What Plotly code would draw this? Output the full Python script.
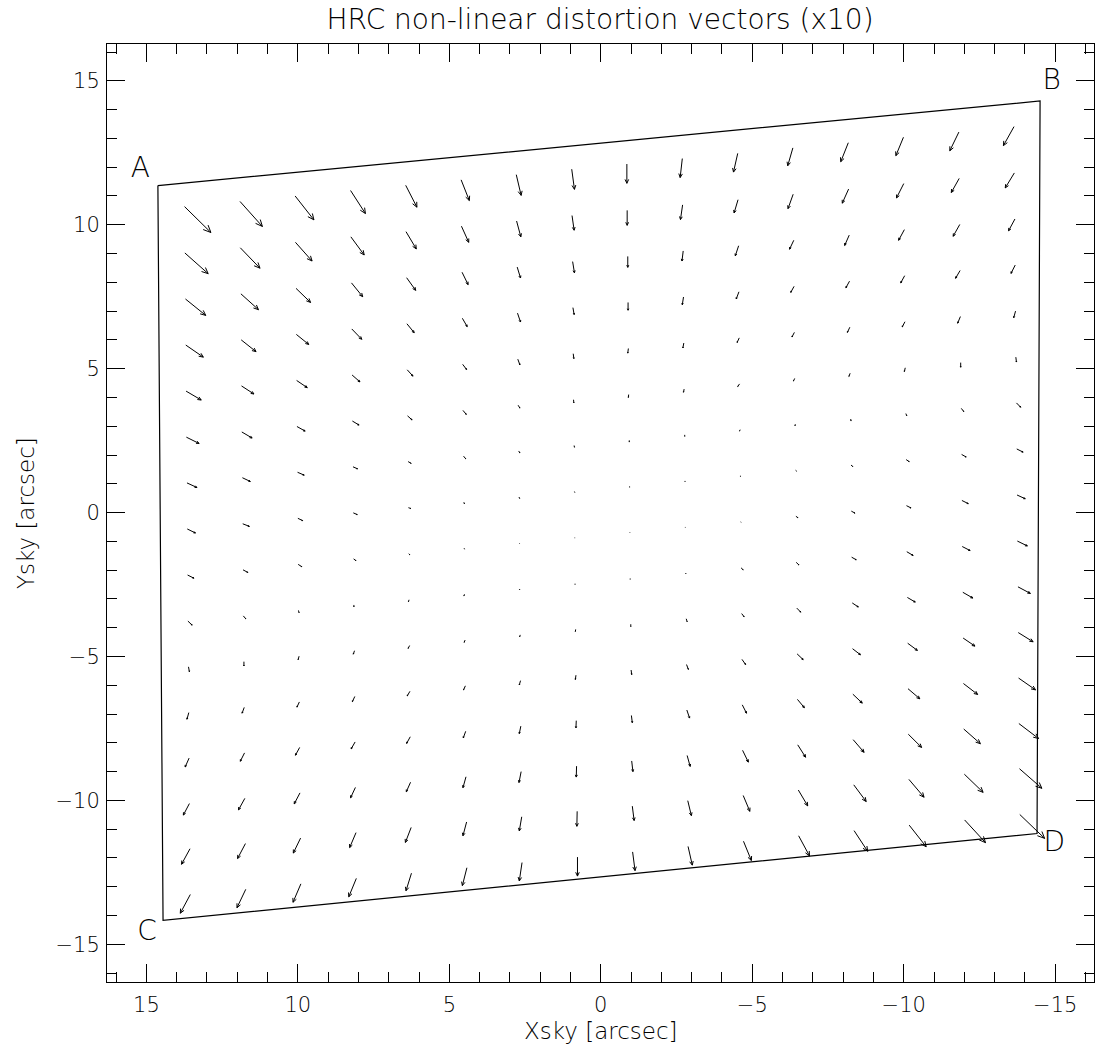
import math
import plotly.graph_objects as go

# ---------------- data (sky coordinates in arcsec) ----------------
# tail positions of the sampling grid: per-column positions of the top row
col_x = [13.74, 11.91, 10.09, 8.26, 6.44, 4.61, 2.79, 0.96, -0.86, -2.69,
         -4.52, -6.34, -8.17, -9.99, -11.82, -13.64]
col_y = [10.63, 10.81, 11.00, 11.19, 11.37, 11.56, 11.74, 11.93, 12.11, 12.30,
         12.48, 12.67, 12.85, 13.04, 13.22, 13.41]
# per-row offsets from the top row
row_dx = [0.00, -0.01, -0.03, -0.04, -0.05, -0.06, -0.08, -0.09, -0.10, -0.11,
          -0.13, -0.14, -0.15, -0.16, -0.18, -0.19]
row_dy = [0.00, -1.61, -3.21, -4.81, -6.41, -8.01, -9.60, -11.20, -12.80, -14.40,
          -15.99, -17.58, -19.16, -20.74, -22.31, -23.90]

# non-linear distortion (milliarcsec), rows top -> bottom, columns left -> right
dx_mas = [
    [-87, -74, -62, -49, -37, -27, -16, -9, 0, 7, 14, 17, 25, 25, 30, 35],
    [-77, -65, -55, -44, -34, -24, -14, -7, 0, 7, 13, 17, 21, 24, 26, 30],
    [-67, -58, -48, -37, -30, -20, -11, -6, 0, 4, 11, 14, 15, 19, 22, 21],
    [-58, -49, -41, -33, -24, -16, -10, -4, 0, 4, 9, 11, 12, 13, 15, 14],
    [-50, -41, -35, -26, -19, -13, -7, -2, 2, 3, 7, 8, 8, 9, 9, 6],
    [-42, -34, -27, -22, -15, -11, -6, -1, 1, 2, 6, 4, 4, 3, 0, -2],
    [-33, -26, -22, -15, -10, -7, -4, -1, 0, 0, 2, 1, -1, -3, -8, -14],
    [-27, -22, -16, -13, -8, -2, -2, -1, 0, 0, 0, -3, -6, -10, -15, -21],
    [-21, -16, -12, -8, -4, -1, -1, 0, 0, 0, -1, -7, -12, -15, -21, -27],
    [-14, -8, -2, 0, 2, 2, 0, 0, 0, -1, -7, -9, -15, -21, -26, -33],
    [-3, 0, 3, 4, 5, 3, 2, 1, 0, -3, -8, -13, -20, -26, -33, -41],
    [6, 7, 8, 8, 9, 6, 4, 2, -2, -6, -12, -20, -26, -32, -39, -49],
    [13, 14, 14, 13, 12, 8, 5, 1, -3, -9, -14, -23, -31, -39, -47, -56],
    [20, 21, 19, 16, 14, 10, 7, 1, -4, -10, -19, -26, -36, -44, -55, -65],
    [28, 26, 24, 21, 19, 12, 8, 1, -6, -12, -22, -31, -41, -50, -62, -74],
    [33, 29, 26, 25, 18, 15, 9, 0, -8, -14, -26, -36, -45, -56, -69, -82],
]
dy_mas = [
    [-90, -87, -83, -80, -76, -72, -72, -70, -67, -66, -65, -62, -66, -64, -65, -66],
    [-72, -71, -65, -63, -60, -56, -55, -51, -52, -51, -46, -50, -49, -50, -49, -52],
    [-57, -55, -49, -48, -44, -43, -38, -39, -38, -35, -35, -31, -36, -37, -41, -41],
    [-42, -41, -35, -36, -31, -29, -31, -24, -27, -27, -25, -21, -23, -25, -27, -29],
    [-31, -28, -25, -24, -22, -18, -20, -17, -16, -17, -16, -16, -18, -18, -23, -23],
    [-22, -21, -16, -14, -14, -14, -10, -11, -10, -11, -9, -9, -11, -13, -16, -17],
    [-16, -13, -10, -7, -6, -9, -7, -6, -6, -5, -5, -6, -7, -8, -11, -15],
    [-14, -9, -8, -6, -3, -6, -5, -3, -3, -3, -3, -3, -5, -7, -9, -11],
    [-11, -9, -8, -6, -4, -3, -2, -2, -2, -2, -2, -5, -7, -8, -11, -13],
    [-14, -10, -8, -7, -7, -6, -3, -3, -3, -3, -7, -9, -9, -13, -14, -17],
    [-17, -15, -12, -12, -10, -8, -7, -7, -8, -10, -11, -14, -14, -16, -20, -23],
    [-23, -20, -18, -18, -16, -14, -15, -15, -16, -17, -18, -20, -21, -25, -28, -32],
    [-31, -29, -27, -24, -23, -23, -26, -25, -25, -28, -29, -29, -31, -35, -38, -41],
    [-40, -40, -38, -36, -33, -38, -38, -38, -37, -38, -41, -43, -44, -46, -51, -52],
    [-54, -52, -52, -52, -52, -48, -49, -52, -50, -52, -55, -55, -58, -62, -63, -68],
    [-65, -64, -64, -64, -61, -62, -64, -66, -65, -65, -67, -70, -72, -75, -79, -83],
]
SCALE = 10  # vectors magnified x10

# detector outline corners (A -> B -> D -> C)
corner_x = [14.62, -14.50, -14.40, 14.45]
corner_y = [11.36, 14.30, -11.15, -14.17]
label_names = ["A", "B", "C", "D"]
label_x = [15.2, -14.88, 14.98, -14.97]
label_y = [11.9, 14.97, -14.6, -11.52]

x_ticks = [15, 10, 5, 0, -5, -10, -15]
y_ticks = [-15, -10, -5, 0, 5, 10, 15]

# ---------------- build arrow segments ----------------
FONT = "DejaVu Sans"
HEAD_FRAC = 0.22
HEAD_ANG = math.radians(24)

ax_x, ax_y = [], []
for j in range(len(row_dy)):
    for i in range(len(col_x)):
        x0 = col_x[i] + row_dx[j]
        y0 = col_y[i] + row_dy[j]
        vx = dx_mas[j][i] / 1000.0 * SCALE
        vy = dy_mas[j][i] / 1000.0 * SCALE
        x1, y1 = x0 + vx, y0 + vy
        ax_x += [x0, x1, None]
        ax_y += [y0, y1, None]
        L = math.hypot(vx, vy)
        if L > 0:
            ux, uy = -vx / L, -vy / L
            h = HEAD_FRAC * L
            for s in (1, -1):
                c, sn = math.cos(s * HEAD_ANG), math.sin(s * HEAD_ANG)
                hx = ux * c - uy * sn
                hy = ux * sn + uy * c
                ax_x += [x1 + h * hx, x1, None]
                ax_y += [y1 + h * hy, y1, None]

fig = go.Figure()
fig.add_trace(go.Scatter(x=ax_x, y=ax_y, mode="lines",
                         line=dict(color="black", width=1),
                         hoverinfo="skip", showlegend=False))
fig.add_trace(go.Scatter(x=corner_x + corner_x[:1], y=corner_y + corner_y[:1],
                         mode="lines", line=dict(color="black", width=1.2),
                         hoverinfo="skip", showlegend=False))
fig.add_trace(go.Scatter(x=label_x, y=label_y, mode="text", text=label_names,
                         textfont=dict(family=FONT, size=28, color="black", weight=200),
                         textposition="middle center", hoverinfo="skip",
                         showlegend=False))

axis_common = dict(
    showgrid=False, zeroline=False,
    showline=True, linecolor="black", linewidth=1,
    mirror="allticks", ticks="inside", ticklen=18, tickwidth=1, tickcolor="black",
    minor=dict(ticks="inside", ticklen=10, tickwidth=1, tickcolor="black", dtick=1),
    tickfont=dict(family=FONT, size=21, color="black", weight=200),
)

fig.update_xaxes(range=[16.30, -16.28], tickvals=x_ticks,
                 ticktext=[("\u2212" + str(-v)) if v < 0 else str(v) for v in x_ticks],
                 ticklabelstandoff=4, **axis_common)
fig.update_yaxes(range=[-16.31, 16.28], tickvals=y_ticks,
                 ticktext=[("\u2212" + str(-v)) if v < 0 else str(v) for v in y_ticks],
                 ticklabelstandoff=2, **axis_common)

title_font = dict(family=FONT, size=23, color="black", weight=200)
fig.update_layout(
    width=1097, height=1052,
    margin=dict(l=107, r=3, t=44, b=70),
    paper_bgcolor="white", plot_bgcolor="white",
    title=dict(text="HRC non-linear distortion vectors (x10)",
               x=0.547, xanchor="center", y=0.982, yanchor="middle",
               yref="container",
               font=dict(family=FONT, size=28, color="black", weight=200)),
    annotations=[
        dict(text="Xsky [arcsec]", xref="paper", yref="paper",
             x=0.5, y=-0.052, xanchor="center", yanchor="middle",
             showarrow=False, font=title_font),
        dict(text="Ysky [arcsec]", xref="paper", yref="paper",
             x=-0.082, y=0.5, xanchor="center", yanchor="middle",
             textangle=-90, showarrow=False, font=title_font),
    ],
)

fig.write_html("out.html",
               config={"displayModeBar": False},
               post_script="document.body.style.margin='0';document.body.style.padding='0';")
